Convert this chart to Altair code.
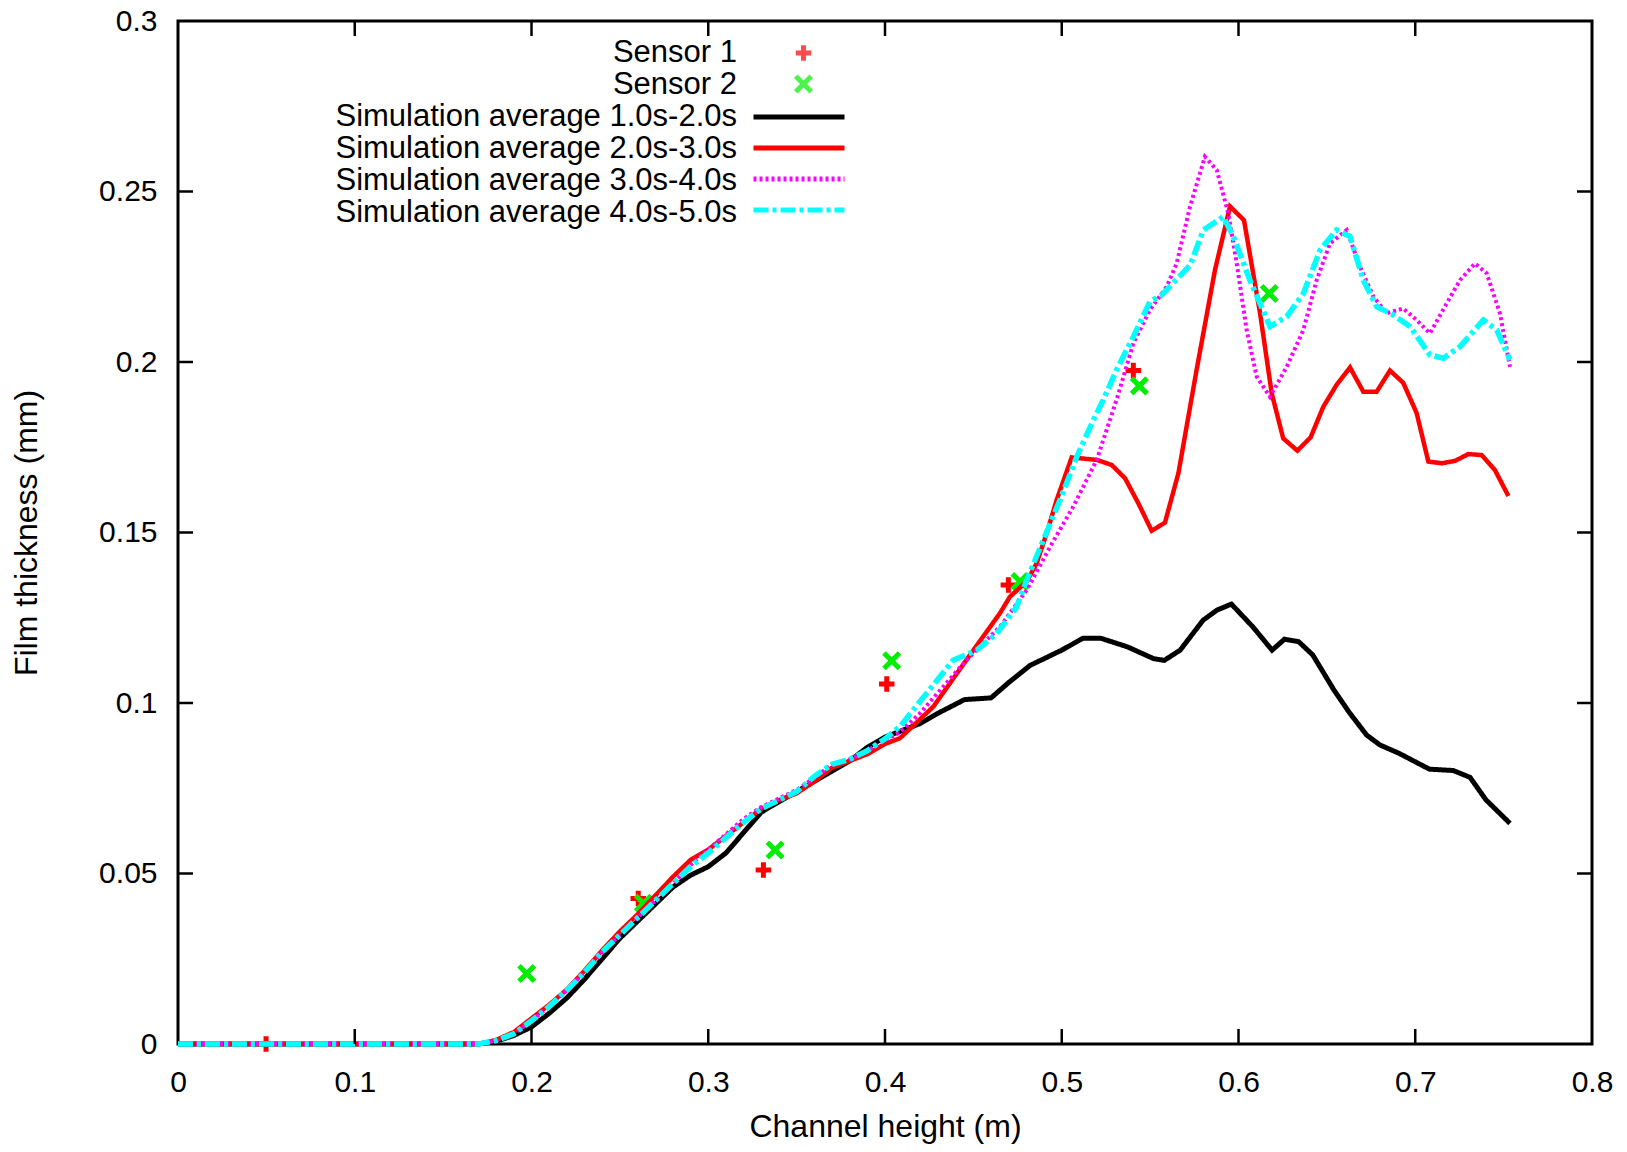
import altair as alt
import pandas as pd

# ---------------- data ----------------
series_names = [
    "Simulation average 1.0s-2.0s",
    "Simulation average 2.0s-3.0s",
    "Simulation average 3.0s-4.0s",
    "Simulation average 4.0s-5.0s",
]
series_colors = ["#000000", "#ff0000", "#ff00ff", "#00ffff"]

base_x = [0, 0.17, 0.18, 0.19, 0.20, 0.21, 0.22, 0.23, 0.24, 0.25, 0.26, 0.27, 0.28,
          0.29, 0.30, 0.31, 0.32, 0.33, 0.34, 0.35, 0.36, 0.37, 0.38, 0.39, 0.40]

black_x = base_x + [0.41, 0.42, 0.43, 0.445, 0.46, 0.47, 0.482, 0.50, 0.512, 0.522, 0.537,
                    0.552, 0.558, 0.567, 0.58, 0.588, 0.596, 0.608, 0.619, 0.626, 0.634,
                    0.642, 0.654, 0.663, 0.6725, 0.68, 0.691, 0.708, 0.7215, 0.731, 0.740, 0.7536]
black_y = [0, 0, 0.0008, 0.0025, 0.005, 0.009, 0.0135, 0.019, 0.025, 0.031, 0.036, 0.041,
           0.046, 0.0495, 0.052, 0.056, 0.062, 0.068, 0.071, 0.074, 0.077, 0.080, 0.083,
           0.087, 0.090,
           0.092, 0.094, 0.097, 0.101, 0.1015, 0.106, 0.111, 0.1155, 0.119, 0.119, 0.1165,
           0.113, 0.1125, 0.1155, 0.1243, 0.1273, 0.129, 0.1224, 0.1155, 0.1187, 0.118,
           0.1141, 0.1038, 0.097, 0.0906, 0.0877, 0.0852, 0.0806, 0.0802, 0.0782, 0.0716, 0.0647]

red_x = base_x + [0.4085, 0.4273, 0.45, 0.465, 0.4707, 0.4802, 0.4858, 0.4915, 0.4971, 0.5056,
                  0.5198, 0.5283, 0.5358, 0.5433, 0.5509, 0.5584, 0.566, 0.5763, 0.5867, 0.5952,
                  0.6031, 0.6122, 0.6188, 0.6253, 0.6333, 0.6408, 0.648, 0.6555, 0.6631, 0.6706,
                  0.6782, 0.6857, 0.6932, 0.7008, 0.7074, 0.715, 0.7225, 0.73, 0.7376, 0.7451, 0.7527]
red_y = [0, 0, 0.0012, 0.0035, 0.0075, 0.0115, 0.016, 0.0215, 0.0275, 0.033, 0.038, 0.0435,
         0.049, 0.054, 0.057, 0.061, 0.065, 0.069, 0.0715, 0.0735, 0.077, 0.081, 0.083, 0.085,
         0.088,
         0.0897, 0.0989, 0.1155, 0.1263, 0.1312, 0.1356, 0.141, 0.1498, 0.1595, 0.172,
         0.1713, 0.1698, 0.1659, 0.1586, 0.1505, 0.1529, 0.1674, 0.1977, 0.227, 0.2456,
         0.2416, 0.2143, 0.1908, 0.1776, 0.174, 0.1779, 0.1869, 0.1933, 0.1984, 0.1913,
         0.1913, 0.1975, 0.1939, 0.185, 0.1708, 0.1703, 0.171, 0.173, 0.1727, 0.1683, 0.1607]

magenta_x = base_x + [0.4085, 0.4198, 0.4461, 0.4651, 0.4802, 0.4934, 0.5065, 0.5198, 0.531,
                      0.5405, 0.5499, 0.5594, 0.565, 0.5726, 0.581, 0.5877, 0.5942, 0.599,
                      0.6046, 0.6103, 0.6178, 0.6273, 0.6367, 0.6442, 0.6518, 0.6612, 0.6687,
                      0.6763, 0.6838, 0.6932, 0.7008, 0.7083, 0.7178, 0.7253, 0.7338, 0.7404,
                      0.7479, 0.7536]
magenta_y = [0, 0, 0.001, 0.003, 0.0068, 0.011, 0.0158, 0.021, 0.027, 0.032, 0.037, 0.042,
             0.047, 0.0525, 0.057, 0.0615, 0.066, 0.0695, 0.072, 0.0745, 0.078, 0.082, 0.0835,
             0.086, 0.089,
             0.0915, 0.097, 0.1126, 0.1224, 0.1331, 0.1458, 0.1576, 0.1713, 0.1889, 0.2055,
             0.2153, 0.2221, 0.2289, 0.2456, 0.2602, 0.2563, 0.2436, 0.2289, 0.2094, 0.1957,
             0.1898, 0.1986, 0.2094, 0.224, 0.2348, 0.2387, 0.228, 0.2192, 0.2143, 0.2157,
             0.2123, 0.2084, 0.2172, 0.224, 0.2289, 0.226, 0.2143, 0.1986]

cyan_x = base_x + [0.4085, 0.4236, 0.4387, 0.4519, 0.4632, 0.4745, 0.4802, 0.4896, 0.499,
                   0.5085, 0.5179, 0.5235, 0.531, 0.5405, 0.5499, 0.5565, 0.5726, 0.5801,
                   0.5914, 0.5971, 0.6065, 0.6178, 0.6273, 0.6367, 0.6461, 0.6555, 0.6631,
                   0.6706, 0.6782, 0.6876, 0.697, 0.7083, 0.7159, 0.7253, 0.7385, 0.7461, 0.7536]
cyan_y = [0, 0, 0.001, 0.003, 0.0068, 0.011, 0.0158, 0.021, 0.027, 0.032, 0.037, 0.042,
          0.047, 0.052, 0.056, 0.0605, 0.065, 0.069, 0.0715, 0.074, 0.0785, 0.082, 0.0835,
          0.086, 0.0895,
          0.0931, 0.1029, 0.1126, 0.1155, 0.1204, 0.1282, 0.1361, 0.1478, 0.1595, 0.1722,
          0.183, 0.1889, 0.1977, 0.2074, 0.2177, 0.2196, 0.2284, 0.2387, 0.2426, 0.2368,
          0.224, 0.2104, 0.2133, 0.2201, 0.2328, 0.2387, 0.2368, 0.224, 0.2162, 0.2138,
          0.2104, 0.2021, 0.2011, 0.2045, 0.2123, 0.2094, 0.2006]

sensor_names = ["Sensor 1", "Sensor 2"]
sensor_colors = ["#ff0000", "#00ee00"]
sensor1_x = [0.0498, 0.2604, 0.3312, 0.401, 0.4698, 0.5405]
sensor1_y = [0.0, 0.0427, 0.051, 0.1056, 0.1346, 0.1975]
sensor2_x = [0.1973, 0.2633, 0.3378, 0.4038, 0.4764, 0.5439, 0.6174]
sensor2_y = [0.0207, 0.0413, 0.0569, 0.1124, 0.1356, 0.193, 0.2201]

x_ticks = [0, 0.1, 0.2, 0.3, 0.4, 0.5, 0.6, 0.7, 0.8]
y_ticks = [0, 0.05, 0.1, 0.15, 0.2, 0.25, 0.3]

# ---------------- frames ----------------
frames = []
for i, (name, xs, ys) in enumerate(zip(series_names,
                                       [black_x, red_x, magenta_x, cyan_x],
                                       [black_y, red_y, magenta_y, cyan_y])):
    frames.append(pd.DataFrame({"x": xs, "y": ys, "series": name, "idx": i}))
lines_df = pd.concat(frames, ignore_index=True)
lines_df["series_label"] = lines_df["series"]

points_df = pd.concat([
    pd.DataFrame({"x": sensor1_x, "y": sensor1_y, "sensor": sensor_names[0]}),
    pd.DataFrame({"x": sensor2_x, "y": sensor2_y, "sensor": sensor_names[1]}),
], ignore_index=True)
points_df["sensor_label"] = points_df["sensor"]

xt_df = pd.DataFrame({"t": x_ticks[1:-1]})
yt_df = pd.DataFrame({"t": y_ticks[1:-1]})

W, H = 1414, 1023
FONT = "Liberation Sans"
X0, X1, Y0, Y1 = 0.0, 0.8, 0.0, 0.3
TICK_PX = 15
tick_dx = (X1 - X0) * TICK_PX / W   # inward tick length in data units
tick_dy = (Y1 - Y0) * TICK_PX / H

x_scale = alt.Scale(domain=[X0, X1], nice=False, zero=False)
y_scale = alt.Scale(domain=[Y0, Y1], nice=False, zero=False)

x_axis = alt.Axis(values=x_ticks, format="~g", title="Channel height (m)",
                  labelPadding=23, titlePadding=14, labelFlush=False, labelOverlap=False)
y_axis = alt.Axis(values=y_ticks, format="~g", title="Film thickness (mm)",
                  labelPadding=21, titlePadding=55, labelFlush=False, labelOverlap=False)

# gnuplot-style key: samples on the right (symbol-only legends) ...
common_leg = dict(title=None, orient="none", clipHeight=30, rowPadding=1, padding=0)
line_sym_legend = alt.Legend(
    legendX=573, legendY=81, symbolType="stroke", symbolSize=8281, symbolStrokeWidth=5,
    labelExpr="''", **common_leg)
point_sym_legend = alt.Legend(
    legendX=615, legendY=17, symbolSize=240, symbolStrokeWidth=5,
    labelExpr="''", **common_leg)
# ... and right-aligned text on the left (label-only legends)
lbl_leg = dict(symbolSize=0, symbolStrokeWidth=0, symbolOpacity=0, symbolType="circle",
               labelAlign="right", labelOffset=0, labelFontSize=31, labelFont=FONT,
               labelLimit=1000, labelColor="black", **common_leg)
line_lbl_legend = alt.Legend(legendX=528, legendY=81, **lbl_leg)
point_lbl_legend = alt.Legend(legendX=528, legendY=17, **lbl_leg)

points = alt.Chart(points_df).mark_point(filled=False, strokeWidth=5, size=240).encode(
    x=alt.X("x:Q", scale=x_scale, axis=x_axis),
    y=alt.Y("y:Q", scale=y_scale, axis=y_axis),
    color=alt.Color("sensor:N", scale=alt.Scale(domain=sensor_names, range=sensor_colors),
                    legend=point_sym_legend),
    shape=alt.Shape("sensor:N", scale=alt.Scale(
        domain=sensor_names,
        range=["M-1,0L1,0M0,-1L0,1", "M-1,-1L1,1M1,-1L-1,1"]), legend=point_sym_legend),
    opacity=alt.Opacity("sensor_label:N", scale=alt.Scale(range=[1, 1]),
                        legend=point_lbl_legend),
)

lines = alt.Chart(lines_df).mark_line(strokeCap="butt").encode(
    x=alt.X("x:Q", scale=x_scale),
    y=alt.Y("y:Q", scale=y_scale),
    color=alt.Color("series:N", scale=alt.Scale(domain=series_names, range=series_colors),
                    legend=line_sym_legend),
    strokeDash=alt.StrokeDash("series:N", scale=alt.Scale(
        domain=series_names, range=[[1, 0], [1, 0], [3, 3], [15, 4, 4, 4]]),
        legend=line_sym_legend),
    strokeWidth=alt.StrokeWidth("idx:Q", scale=alt.Scale(
        domain=[0, 1, 2, 3], range=[5, 4.5, 4, 5.5]), legend=None),
    opacity=alt.Opacity("series_label:N", scale=alt.Scale(range=[1, 1]),
                        legend=line_lbl_legend),
    order=alt.Order("idx:Q"),
)

# inward ticks on all four sides (gnuplot border style)
rule_kw = dict(color="black", strokeWidth=2.5)
xt_bottom = alt.Chart(xt_df).mark_rule(**rule_kw).encode(
    x=alt.X("t:Q", scale=x_scale), y=alt.datum(Y0), y2=alt.datum(Y0 + tick_dy))
xt_top = alt.Chart(xt_df).mark_rule(**rule_kw).encode(
    x=alt.X("t:Q", scale=x_scale), y=alt.datum(Y1), y2=alt.datum(Y1 - tick_dy))
yt_left = alt.Chart(yt_df).mark_rule(**rule_kw).encode(
    y=alt.Y("t:Q", scale=y_scale), x=alt.datum(X0), x2=alt.datum(X0 + tick_dx))
yt_right = alt.Chart(yt_df).mark_rule(**rule_kw).encode(
    y=alt.Y("t:Q", scale=y_scale), x=alt.datum(X1), x2=alt.datum(X1 - tick_dx))

chart = alt.layer(points, lines, xt_bottom, xt_top, yt_left, yt_right).resolve_scale(
    color="independent", shape="independent", strokeDash="independent",
    opacity="independent", strokeWidth="independent",
).properties(
    width=W, height=H,
    autosize=alt.AutoSizeParams(type="none"),
    padding={"left": 178, "top": 21, "right": 35, "bottom": 108},
    background="white",
).configure_view(
    stroke="black", strokeWidth=3, fill="white"
).configure_axis(
    labelFont=FONT, labelFontSize=30, labelColor="black",
    titleFont=FONT, titleFontSize=32, titleFontWeight="normal", titleColor="black",
    ticks=False, domain=False, grid=False,
)

chart.save("out.html", embed_options={"renderer": "svg", "actions": False})
